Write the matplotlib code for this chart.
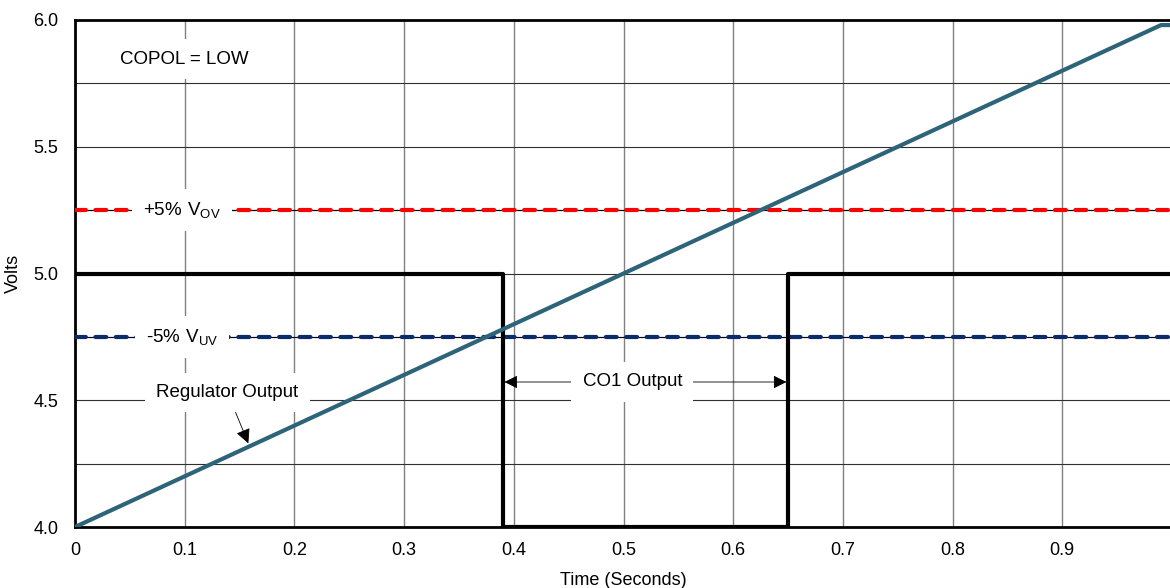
import matplotlib.pyplot as plt
import numpy as np

plt.rcParams['font.family'] = ['Liberation Sans', 'DejaVu Sans']
plt.rcParams['mathtext.fontset'] = 'custom'
plt.rcParams['mathtext.rm'] = 'Liberation Sans'

# regulator output ramp
t_reg = [0.0, 0.99, 1.0]
v_reg = [4.0, 5.98, 5.98]

# CO1 output (step)
t_co1 = [0.0, 0.39, 0.39, 0.65, 0.65, 1.0]
v_co1 = [5.0, 5.0, 4.0, 4.0, 5.0, 5.0]

v_ov = 5.25
v_uv = 4.75

xticks = [0, 0.1, 0.2, 0.3, 0.4, 0.5, 0.6, 0.7, 0.8, 0.9]
xticklabels = ['0', '0.1', '0.2', '0.3', '0.4', '0.5', '0.6', '0.7', '0.8', '0.9']
yticks = [4.0, 4.5, 5.0, 5.5, 6.0]
yticklabels = ['4.0', '4.5', '5.0', '5.5', '6.0']
ygrid = [4.25, 4.5, 4.75, 5.0, 5.25, 5.5, 5.75]

fig = plt.figure(figsize=(11.7, 5.88), dpi=100)
ax = fig.add_axes([75 / 1170, 1 - 527 / 588, 1097 / 1170, 507 / 588])

ax.set_xlim(0, 1.0)
ax.set_ylim(4.0, 6.0)

# grid
for x in xticks[1:]:
    ax.axvline(x, color='#808080', lw=1.0, zorder=1)
for y in ygrid:
    ax.axhline(y, color='#303030', lw=0.8, zorder=1)

# limit lines: thin black line with thick coloured dashes
box = dict(boxstyle='square,pad=0.6', fc='white', ec='none')
for v, col, lab in [(v_ov, '#FF0000', r'$\mathregular{+5\%\ V_{OV}}$'),
                    (v_uv, '#0B2C6B', r'$\mathregular{\text{-}5\%\ V_{UV}}$')]:
    ax.plot([0, 1.0], [v, v], color='black', lw=0.8, zorder=2)
    ax.plot([0, 1.0], [v, v], color=col, lw=3.0, dashes=(2.6, 2.3),
            dash_capstyle='round', zorder=3)
    ax.text(0.0975, v, lab, ha='center', va='center', fontsize=13.5,
            bbox=box, zorder=6)

ax.plot(t_co1, v_co1, color='black', lw=3.0, solid_capstyle='round', zorder=4)
ax.plot(t_reg, v_reg, color='#2D6479', lw=3.0, solid_capstyle='round', zorder=5)

ax.text(0.1, 5.846, 'COPOL = LOW', ha='center', va='center', fontsize=13.5,
        bbox=box, zorder=6)

ax.annotate('Regulator Output', xy=(0.158, 4.33), xytext=(0.139, 4.53),
            ha='center', va='center', fontsize=13.5, bbox=box, zorder=6,
            arrowprops=dict(arrowstyle='-|>', color='black', lw=0.6,
                            mutation_scale=22, shrinkA=0, shrinkB=0))

for xe in [0.3915, 0.6485]:
    ax.annotate('CO1 Output', xy=(xe, 4.572), xytext=(0.508, 4.572),
                ha='center', va='center', fontsize=13.5, bbox=box, zorder=6,
                arrowprops=dict(arrowstyle='-|>', color='black', lw=0.6,
                                mutation_scale=20, shrinkA=0, shrinkB=0))

ax.set_xticks(xticks)
ax.set_xticklabels(xticklabels)
ax.set_yticks(yticks)
ax.set_yticklabels(yticklabels)
ax.tick_params(axis='x', length=0, labelsize=13, pad=11)
ax.tick_params(axis='y', length=0, labelsize=13, pad=12)
ax.set_xlabel('Time (Seconds)', fontsize=13)
ax.set_ylabel('Volts', fontsize=13)
ax.xaxis.set_label_coords(0.5, -0.088)
ax.yaxis.set_label_coords(-0.048, 0.5)

for s in ['left', 'top', 'bottom']:
    ax.spines[s].set_linewidth(2.0)
ax.spines['right'].set_visible(False)

fig.savefig('out.png', dpi=100)
